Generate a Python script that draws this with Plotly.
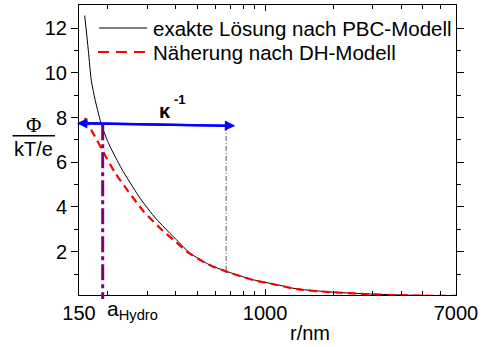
import math
import plotly.graph_objects as go

# ---- data ----
r_pbc = [159, 165, 170, 177, 189, 199, 206, 232, 275, 296, 324, 379, 399, 463, 568, 661, 886, 1144, 1385, 2000, 3000, 4000, 5000, 7000]
phi_pbc = [12.57, 11.0, 9.67, 8.77, 7.65, 7.05, 6.7, 5.7, 4.5, 4.05, 3.55, 2.82, 2.6, 1.95, 1.41, 1.15, 0.74, 0.51, 0.33, 0.19, 0.10, 0.06, 0.04, 0.02]

r_dh = [159, 180, 189, 216, 248, 290, 343, 399, 463, 568, 661, 886, 1144, 1385, 2000, 3000, 4000, 5000, 7000]
phi_dh = [7.98, 6.99, 6.6, 5.55, 4.7, 3.8, 3.05, 2.47, 1.92, 1.4, 1.14, 0.73, 0.5, 0.32, 0.18, 0.09, 0.05, 0.03, 0.02]

x_tickvals = [150, 1000, 7000]
x_ticktext = ["150", "1000", "7000"]
x_minor = [200, 300, 400, 500, 600, 700, 800, 900, 2000, 3000, 4000, 5000, 6000]
y_tickvals = [2, 4, 6, 8, 10, 12]
y_minor = [1, 3, 5, 7, 9, 11]

a_hydro = 191          # r of the hydrodynamic radius marker
kappa_start = 147      # left end of Debye-length arrow (tip)
kappa_end = 737        # right end (arrow tip)
kappa_drop = 672       # position of the thin vertical drop line
kappa_phi_left = 7.75
kappa_phi_right = 7.63
kappa_drop_phi = 1.15

series_names = ["exakte Lösung nach PBC-Modell", "Näherung nach DH-Modell"]
series_colors = ["black", "#ff0000"]

# ---- layout geometry ----
L, R, T, B = 79, 26, 5, 52
W, H = 482, 347
PW, PH = W - L - R, H - T - B
YMIN, YMAX = 0.06, 13.04


def px_x(px):
    return (px - L) / PW


def px_y(py):
    return (H - B - py) / PH


def phi_to_paper(v):
    return (v - YMIN) / (YMAX - YMIN)


FONT = "Liberation Sans, Arial, sans-serif"

fig = go.Figure()
fig.add_trace(go.Scatter(
    x=r_pbc, y=phi_pbc, mode="lines", name=series_names[0],
    line=dict(color=series_colors[0], width=1, shape="spline", smoothing=0.7),
))
fig.add_trace(go.Scatter(
    x=r_dh, y=phi_dh, mode="lines", name=series_names[1],
    line=dict(color=series_colors[1], width=2.2, dash="8px,5px", shape="spline", smoothing=0.7),
))

fig.update_layout(
    width=W, height=H,
    margin=dict(l=L, r=R, t=T, b=B, autoexpand=False),
    plot_bgcolor="white", paper_bgcolor="white",
    font=dict(family=FONT, size=20, color="black"),
    showlegend=False,
    xaxis=dict(
        type="log", range=[math.log10(150), math.log10(7000)], automargin=False,
        tickmode="array", tickvals=x_tickvals, ticktext=x_ticktext,
        ticks="inside", ticklen=6, tickwidth=1, tickcolor="black",
        showline=True, linecolor="black", linewidth=1, mirror="ticks",
        showgrid=False, zeroline=False,
        tickfont=dict(size=20, family=FONT, color="black"),
        minor=dict(tickmode="array", tickvals=x_minor, ticks="inside", ticklen=4,
                   tickwidth=1, tickcolor="black", showgrid=False),
    ),
    yaxis=dict(
        range=[YMIN, YMAX], automargin=False,
        tickmode="array", tickvals=y_tickvals,
        ticks="outside", ticklen=7, tickwidth=1, tickcolor="black",
        showline=True, linecolor="black", linewidth=1, mirror="ticks",
        showgrid=False, zeroline=False,
        tickfont=dict(size=20, family=FONT, color="black"),
        minor=dict(tickmode="array", tickvals=y_minor, ticks="outside", ticklen=4,
                   tickwidth=1, tickcolor="black", showgrid=False),
    ),
)

shapes = []
# purple dash-dot vertical line at a_Hydro
shapes.append(dict(
    type="line", xref="x", yref="paper",
    x0=a_hydro, x1=a_hydro, y0=phi_to_paper(kappa_phi_left - 0.05), y1=px_y(299),
    line=dict(color="#800080", width=3, dash="16px,4px,4px,4px"),
))
# thin grey dash-dot drop line at kappa^-1
shapes.append(dict(
    type="line", xref="x", yref="y",
    x0=kappa_drop, x1=kappa_drop, y0=kappa_phi_right, y1=kappa_drop_phi,
    line=dict(color="#555555", width=1, dash="5px,2px,1px,2px"),
))
# fraction bar of the y-axis label
shapes.append(dict(
    type="line", xref="paper", yref="paper",
    x0=px_x(12.5), x1=px_x(55), y0=px_y(135.7), y1=px_y(135.7),
    line=dict(color="black", width=1.5),
))
# legend samples
shapes.append(dict(
    type="line", xref="paper", yref="paper",
    x0=px_x(99), x1=px_x(147), y0=px_y(28), y1=px_y(28),
    line=dict(color=series_colors[0], width=1),
))
shapes.append(dict(
    type="line", xref="paper", yref="paper",
    x0=px_x(98), x1=px_x(147), y0=px_y(52), y1=px_y(52),
    line=dict(color=series_colors[1], width=2.2, dash="11px,7px"),
))
fig.update_layout(shapes=shapes)

ann = []
# legend texts
ann.append(dict(
    text=series_names[0], xref="paper", yref="paper",
    x=px_x(151), y=px_y(28), xanchor="left", yanchor="middle",
    showarrow=False, font=dict(size=20.5, family=FONT, color="black"),
))
ann.append(dict(
    text=series_names[1], xref="paper", yref="paper",
    x=px_x(151), y=px_y(52), xanchor="left", yanchor="middle",
    showarrow=False, font=dict(size=20.5, family=FONT, color="black"),
))
# Debye-length double arrow (two one-sided arrows)
ann.append(dict(
    x=math.log10(kappa_end), y=kappa_phi_right, xref="x", yref="y",
    ax=math.log10(kappa_start), ay=kappa_phi_left, axref="x", ayref="y",
    text="", showarrow=True, arrowhead=2, arrowsize=0.9, arrowwidth=2.3, arrowcolor="#0000ff",
))
ann.append(dict(
    x=math.log10(kappa_start), y=kappa_phi_left, xref="x", yref="y",
    ax=math.log10(kappa_end), ay=kappa_phi_right, axref="x", ayref="y",
    text="", showarrow=True, arrowhead=2, arrowsize=0.9, arrowwidth=2.3, arrowcolor="#0000ff",
))
ann.append(dict(
    text="<b>κ</b>", xref="paper", yref="paper",
    x=px_x(165), y=px_y(111), xanchor="center", yanchor="middle",
    showarrow=False, font=dict(size=20, family=FONT, color="black"),
))
ann.append(dict(
    text="<b>-1</b>", xref="paper", yref="paper",
    x=px_x(172), y=px_y(99), xanchor="left", yanchor="middle",
    showarrow=False, font=dict(size=13, family=FONT, color="black"),
))
ann.append(dict(
    text="a<sub>Hydro</sub>", xref="paper", yref="paper",
    x=px_x(105), y=px_y(295), xanchor="left", yanchor="top",
    showarrow=False, font=dict(size=21, family=FONT, color="black"),
))
ann.append(dict(
    text="r/nm", xref="paper", yref="paper",
    x=px_x(310), y=px_y(333), xanchor="center", yanchor="middle",
    showarrow=False, font=dict(size=20, family=FONT, color="black"),
))
ann.append(dict(
    text="Φ", xref="paper", yref="paper",
    x=px_x(33.5), y=px_y(125), xanchor="center", yanchor="middle",
    showarrow=False, font=dict(size=21, family="Liberation Serif, Times New Roman, serif", color="black"),
))
ann.append(dict(
    text="kT/e", xref="paper", yref="paper",
    x=px_x(33.5), y=px_y(149), xanchor="center", yanchor="middle",
    showarrow=False, font=dict(size=20, family=FONT, color="black"),
))
fig.update_layout(annotations=ann)

fig.write_html(
    "out.html",
    config={"displayModeBar": False},
    post_script="document.body.style.margin='0';document.body.style.padding='0';",
)
